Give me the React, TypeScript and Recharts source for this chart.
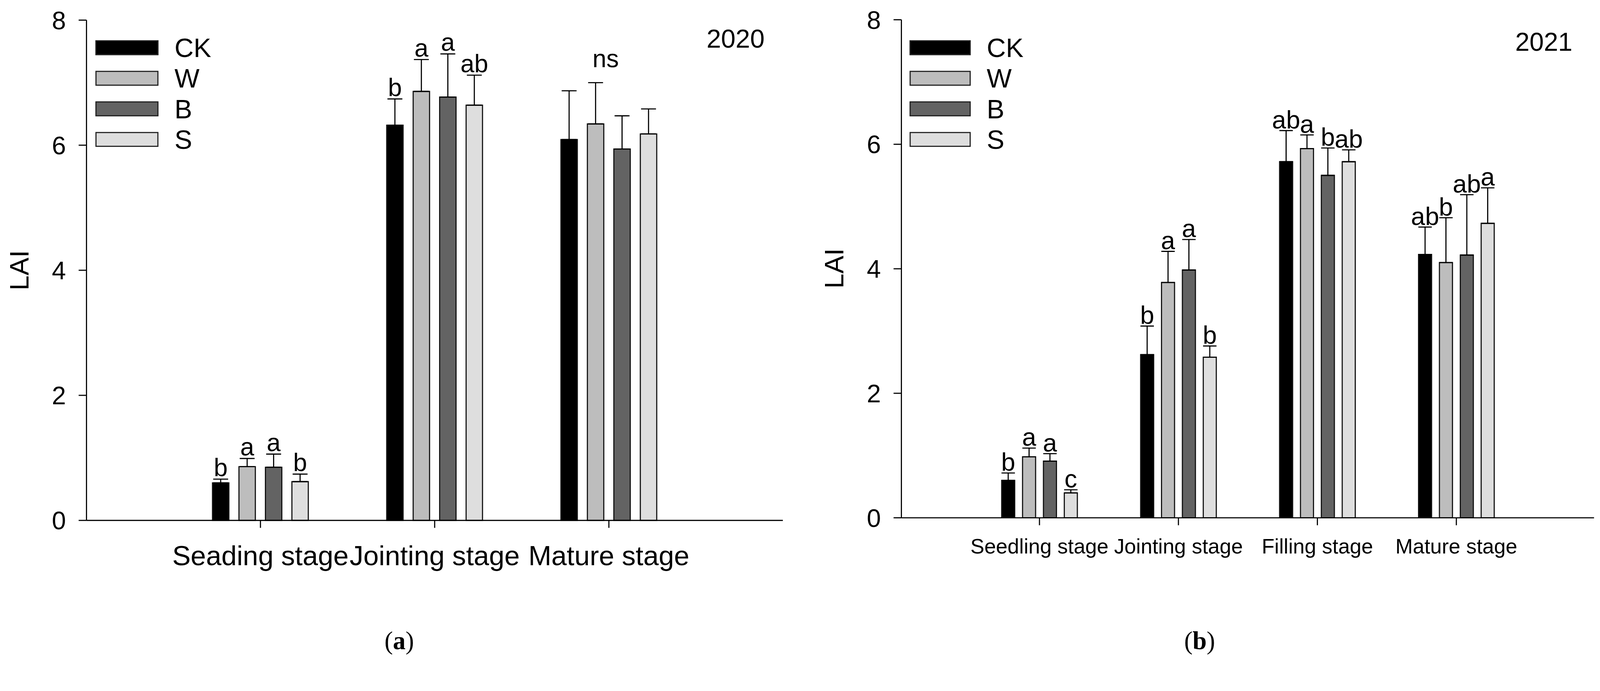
import { BarChart, Bar, XAxis, YAxis, ErrorBar, LabelList, Legend } from "recharts";

const FONT = "'Liberation Sans', Arial, Helvetica, sans-serif";
const SERIF = "'Liberation Serif', 'Times New Roman', serif";

// treatments
const seriesNames = ["CK", "W", "B", "S"];
const seriesColors = ["#000000", "#bdbdbd", "#636363", "#dedede"];

// (a) 2020
const stages2020 = ["Seading stage", "Jointing stage", "Mature stage"];
const ck2020 = [0.6, 6.32, 6.09];
const w2020 = [0.86, 6.86, 6.34];
const b2020 = [0.85, 6.77, 5.94];
const s2020 = [0.62, 6.64, 6.18];
const ckErr2020 = [0.06, 0.42, 0.78];
const wErr2020 = [0.13, 0.51, 0.66];
const bErr2020 = [0.21, 0.69, 0.53];
const sErr2020 = [0.12, 0.48, 0.4];
const ckLet2020 = ["b", "b", ""];
const wLet2020 = ["a", "a", "ns"];
const bLet2020 = ["a", "a", ""];
const sLet2020 = ["b", "ab", ""];

// (b) 2021
const stages2021 = ["Seedling stage", "Jointing stage", "Filling stage", "Mature stage"];
const ck2021 = [0.6, 2.62, 5.72, 4.23];
const w2021 = [0.98, 3.78, 5.93, 4.1];
const b2021 = [0.91, 3.98, 5.5, 4.22];
const s2021 = [0.4, 2.58, 5.72, 4.73];
const ckErr2021 = [0.12, 0.46, 0.5, 0.44];
const wErr2021 = [0.14, 0.5, 0.22, 0.72];
const bErr2021 = [0.12, 0.49, 0.44, 0.97];
const sErr2021 = [0.05, 0.18, 0.19, 0.57];
const ckLet2021 = ["b", "b", "ab", "ab"];
const wLet2021 = ["a", "a", "a", "b"];
const bLet2021 = ["a", "a", "b", "ab"];
const sLet2021 = ["c", "b", "ab", "a"];

const yTicks = [0, 2, 4, 6, 8];

const PAGE_W = 4292;
const PAGE_H = 1769;

function buildRows(stages: string[], values: number[][], errors: number[][], letters: string[][]) {
  return stages.map((stage, i) => {
    const row: any = { stage };
    seriesNames.forEach((name, s) => {
      row[name] = values[s][i];
      row[name + "Err"] = [0, errors[s][i]];
      row[name + "Let"] = letters[s][i];
    });
    return row;
  });
}

const rows2020 = buildRows(
  stages2020,
  [ck2020, w2020, b2020, s2020],
  [ckErr2020, wErr2020, bErr2020, sErr2020],
  [ckLet2020, wLet2020, bLet2020, sLet2020]
);
const rows2021 = buildRows(
  stages2021,
  [ck2021, w2021, b2021, s2021],
  [ckErr2021, wErr2021, bErr2021, sErr2021],
  [ckLet2021, wLet2021, bLet2021, sLet2021]
);

// the "ns" in 2020 sits higher and a bit right of the W bar
const nudge2020: Record<string, { dx: number; dy: number }> = { "W:2": { dx: 27, dy: -34 } };

function letterLabel(rows: any[], name: string, fontSize: number, lift: number, nudge: Record<string, { dx: number; dy: number }>) {
  return (props: any) => {
    const vb = props.viewBox ?? props;
    const i = props.index;
    const row = rows[i];
    if (!row || !row[name + "Let"]) return null;
    const pxPerUnit = Math.abs(vb.height) / row[name];
    const shift = nudge[`${name}:${i}`] ?? { dx: 0, dy: 0 };
    const x = vb.x + vb.width / 2 + shift.dx;
    const y = vb.y - row[name + "Err"][1] * pxPerUnit - lift + shift.dy;
    return (
      <text x={x} y={y} textAnchor="middle" fontSize={fontSize} fontFamily={FONT} fill="#000">
        {row[name + "Let"]}
      </text>
    );
  };
}

function LegendBox({ swatchW, textGap }: { swatchW: number; textGap: number }) {
  return (
    <div style={{ fontFamily: FONT }}>
      {seriesNames.map((name, i) => (
        <div key={name} style={{ display: "flex", alignItems: "center", height: 82 }}>
          <div
            style={{
              width: swatchW,
              height: 40,
              background: seriesColors[i],
              border: "3px solid #222",
              boxSizing: "border-box",
            }}
          />
          <span style={{ marginLeft: textGap, fontSize: 71, lineHeight: 1, color: "#000" }}>{name}</span>
        </div>
      ))}
    </div>
  );
}

function Panel({
  rows,
  left,
  width,
  margin,
  padding,
  barSize,
  barGap,
  capHalf,
  catFont,
  catMargin,
  letterFont,
  lift,
  legendLeft,
  swatchW,
  nudge,
}: any) {
  const axisStyle = { stroke: "#000", strokeWidth: 3 };
  return (
    <div style={{ position: "absolute", left, top: 0 }}>
      <BarChart width={width} height={1600} data={rows} margin={margin} barSize={barSize} barGap={barGap}>
        <XAxis
          dataKey="stage"
          padding={padding}
          interval={0}
          height={150}
          tickSize={20}
          tickMargin={catMargin}
          axisLine={axisStyle}
          tickLine={axisStyle}
          tick={{ fontSize: catFont, fill: "#000", fontFamily: FONT }}
        />
        <XAxis
          xAxisId="top"
          orientation="top"
          dataKey="stage"
          padding={padding}
          height={0}
          tick={false}
          tickLine={false}
          axisLine={{ stroke: "#000", strokeWidth: 2.5 }}
        />
        <YAxis
          type="number"
          domain={[0, 8]}
          ticks={yTicks}
          width={150}
          tickSize={21}
          tickMargin={34}
          axisLine={axisStyle}
          tickLine={axisStyle}
          tick={{ fontSize: 68, fill: "#000", fontFamily: FONT }}
        />
        <YAxis
          yAxisId="right"
          orientation="right"
          type="number"
          domain={[0, 8]}
          width={0}
          tick={false}
          tickLine={false}
          axisLine={{ stroke: "#000", strokeWidth: 2.5 }}
        />
        <Legend
          layout="vertical"
          align="center"
          verticalAlign="middle"
          wrapperStyle={{ left: legendLeft, top: 87, width: 420, height: 330 }}
          content={() => <LegendBox swatchW={swatchW} textGap={43} />}
        />
        {seriesNames.map((name, i) => (
          <Bar
            key={name}
            dataKey={name}
            fill={seriesColors[i]}
            stroke="#111"
            strokeWidth={3}
            isAnimationActive={false}
          >
            <ErrorBar dataKey={name + "Err"} direction="y" width={capHalf} stroke="#000" strokeWidth={3} />
            <LabelList dataKey={name} content={letterLabel(rows, name, letterFont, lift, nudge)} />
          </Bar>
        ))}
      </BarChart>
    </div>
  );
}

export default function App() {
  // fit the fixed-size figure to the actual viewport
  const k =
    typeof window !== "undefined"
      ? Math.min(1, window.innerWidth / PAGE_W, window.innerHeight / PAGE_H)
      : 1;
  return (
    <div
      style={{
        position: "absolute",
        left: 0,
        top: 0,
        width: PAGE_W,
        height: PAGE_H,
        background: "#fff",
        transform: `scale(${k})`,
        transformOrigin: "0 0",
      }}
    >
      <Panel
        rows={rows2020}
        left={0}
        width={2160}
        margin={{ top: 54, right: 60, bottom: 54, left: 82 }}
        padding={{ left: 233, right: 233 }}
        barSize={44}
        barGap={27}
        capHalf={20}
        catFont={74}
        catMargin={48}
        letterFont={67}
        lift={8}
        legendLeft={256}
        swatchW={169}
        nudge={nudge2020}
      />
      <Panel
        rows={rows2021}
        left={2180}
        width={2112}
        margin={{ top: 53, right: 16, bottom: 61, left: 88 }}
        padding={{ left: 184, right: 183 }}
        barSize={35}
        barGap={21}
        capHalf={18}
        catFont={56}
        catMargin={36}
        letterFont={68}
        lift={6}
        legendLeft={260}
        swatchW={164}
        nudge={{}}
      />
      <svg
        width={PAGE_W}
        height={PAGE_H}
        style={{ position: "absolute", left: 0, top: 0, pointerEvents: "none" }}
      >
        <text transform="translate(52,725) rotate(-90)" textAnchor="middle" dominantBaseline="central" fontSize={72} fontFamily={FONT}>
          LAI
        </text>
        <text transform="translate(2238,720) rotate(-90)" textAnchor="middle" dominantBaseline="central" fontSize={72} fontFamily={FONT}>
          LAI
        </text>
        <text x={2051} y={128} textAnchor="end" fontSize={70} fontFamily={FONT}>
          2020
        </text>
        <text x={4218} y={136} textAnchor="end" fontSize={69} fontFamily={FONT}>
          2021
        </text>
        <text x={1071} y={1742} textAnchor="middle" fontSize={68} fontFamily={SERIF}>
          (<tspan fontWeight="bold">a</tspan>)
        </text>
        <text x={3218} y={1742} textAnchor="middle" fontSize={68} fontFamily={SERIF}>
          (<tspan fontWeight="bold">b</tspan>)
        </text>
      </svg>
    </div>
  );
}
